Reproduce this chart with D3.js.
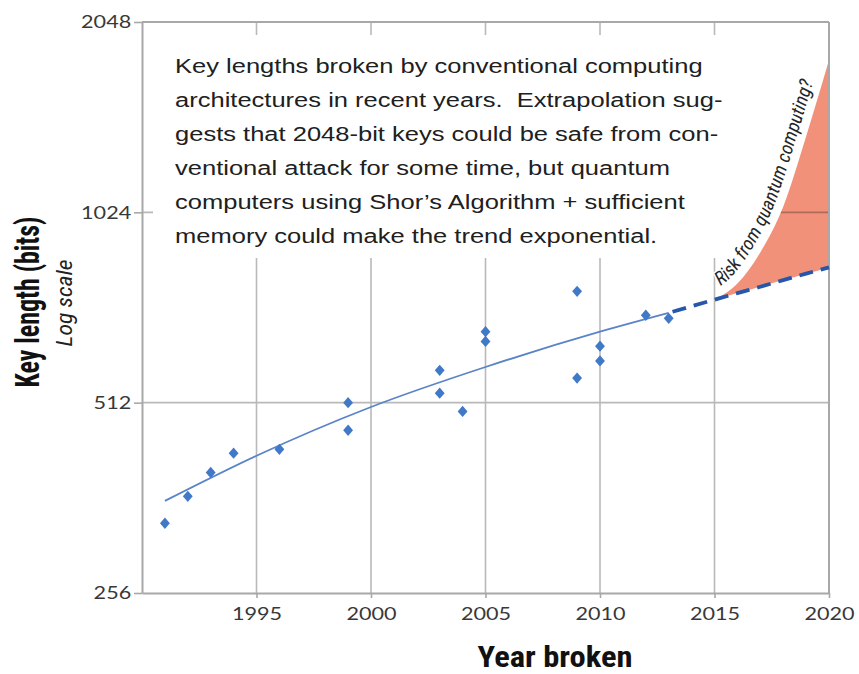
<!DOCTYPE html>
<html><head><meta charset="utf-8">
<script src="https://cdn.jsdelivr.net/npm/d3@7"></script>
<style>body{margin:0;background:#fff}svg{display:block}text{white-space:pre}</style>
</head><body><svg id="chart" width="859" height="674"></svg>
<script>
// ---------- data ----------
const years   = [1991,1992,1993,1994,1996,1999,1999,2003,2003,2004,2005,2005,2009,2009,2010,2010,2012,2013];
const keyBits = [330, 364, 397, 426, 432, 463, 512, 530, 576, 496, 640, 663, 768, 560, 596, 629, 704, 696];
const trendYears = [1991,1995,2000,2005,2010,2013];
const trendBits  = [358, 422, 504, 583, 663, 710];
const extrapYears = [2013,2015,2016,2017,2018,2019,2020];
const extrapBits  = [710, 745, 763, 781, 800, 819, 838];
const riskYears = [2015,2016,2017,2018,2019,2020];
const riskUpper = [745, 790, 885, 1045,1350,1783];
const riskLower = [745, 763, 781, 800, 819, 838];
const yearTicks = [1995,2000,2005,2010,2015,2020];
const bitTicks  = [256,512,1024,2048];
const noteLines = [
  "Key lengths broken by conventional computing",
  "architectures in recent years.  Extrapolation sug-",
  "gests that 2048-bit keys could be safe from con-",
  "ventional attack for some time, but quantum",
  "computers using Shor\u2019s Algorithm + sufficient",
  "memory could make the trend exponential."
];
const riskLabel = "Risk from quantum computing?";
const xTitle = "Year broken";
const yTitle = "Key length (bits)";
const ySubTitle = "Log scale";

// ---------- setup ----------
const svg = d3.select("#chart");
const x = d3.scaleLinear().domain([1990,2020]).range([142,829]);
const y = d3.scaleLog().base(2).domain([256,2048]).range([593,22]);
const gridColor = "#b9b9b9", axisColor = "#a8a8a8";
const SX = 1.2; // horizontal stretch of the original picture's text
const condensed = "'Liberation Sans Narrow','Roboto Condensed','DejaVu Sans Condensed',sans-serif";

// grid lines
svg.append("g").selectAll("line").data(yearTicks.filter(d=>d<2020)).join("line")
  .attr("x1",d=>x(d)).attr("x2",d=>x(d)).attr("y1",y(2048)).attr("y2",y(256))
  .attr("stroke",gridColor).attr("stroke-width",1.6);
svg.append("g").selectAll("line").data(bitTicks.filter(d=>d>256&&d<2048)).join("line")
  .attr("x1",x(1990)).attr("x2",x(2020)).attr("y1",d=>y(d)).attr("y2",d=>y(d))
  .attr("stroke",gridColor).attr("stroke-width",1.6);

// white backing of the note
svg.append("rect").attr("x",x(1990)+11).attr("y",35)
  .attr("width",x(2020)-x(1990)-11).attr("height",223).attr("fill","#fff");

// risk area
const riskData = riskYears.map((d,i)=>({year:d,hi:riskUpper[i],lo:riskLower[i]}));
const area = d3.area().x(d=>x(d.year)).y0(d=>y(d.lo)).y1(d=>y(d.hi)).curve(d3.curveMonotoneX);
svg.append("clipPath").attr("id","riskClip").append("path").attr("d",area(riskData));
svg.append("path").attr("d",area(riskData)).attr("fill","#f2917a");
svg.append("g").attr("clip-path","url(#riskClip)").selectAll("line")
  .data(bitTicks.filter(d=>d>256&&d<2048)).join("line")
  .attr("x1",x(1990)).attr("x2",x(2020)).attr("y1",d=>y(d)).attr("y2",d=>y(d))
  .attr("stroke","#b06a5a").attr("stroke-width",1.6);

// frame
svg.append("line").attr("x1",x(1990)).attr("x2",x(2020)).attr("y1",y(2048)).attr("y2",y(2048))
  .attr("stroke",axisColor).attr("stroke-width",2);
svg.append("line").attr("x1",x(2020)).attr("x2",x(2020)).attr("y1",y(2048)).attr("y2",y(256))
  .attr("stroke",axisColor).attr("stroke-width",2);

// axes
const yAxis = svg.append("g").attr("transform",`translate(${x(1990)},0)`)
  .call(d3.axisLeft(y).tickValues(bitTicks).tickFormat(d3.format("d")).tickSize(8).tickPadding(1).tickSizeOuter(0));
const xAxis = svg.append("g").attr("transform",`translate(0,${y(256)})`)
  .call(d3.axisBottom(x).tickValues(yearTicks).tickFormat(d3.format("d")).tickSize(5).tickPadding(9).tickSizeOuter(0));
[yAxis,xAxis].forEach(g=>{
  g.select(".domain").attr("stroke",axisColor).attr("stroke-width",2);
  g.selectAll(".tick line").attr("stroke",axisColor).attr("stroke-width",1.6);
  g.selectAll(".tick text").attr("fill","#383838").attr("font-family","Lato,'Open Sans',sans-serif")
    .attr("font-size",18).attr("transform",`scale(${SX},1)`);
});
xAxis.selectAll(".tick text").attr("x",0);

// trend line (solid) and extrapolation (dashed)
const line = d3.line().x(d=>x(d[0])).y(d=>y(d[1])).curve(d3.curveMonotoneX);
svg.append("path").attr("d",line(trendYears.map((d,i)=>[d,trendBits[i]])))
  .attr("fill","none").attr("stroke","#5a84c8").attr("stroke-width",1.8);
svg.append("path").attr("d",line(extrapYears.map((d,i)=>[d,extrapBits[i]])))
  .attr("fill","none").attr("stroke","#2757a8").attr("stroke-width",3.8)
  .attr("stroke-dasharray","14,8").attr("stroke-dashoffset",-4);

// points
const sym = d3.symbol(d3.symbolDiamond2, 62);
svg.append("g").selectAll("path").data(years.map((d,i)=>[d,keyBits[i]])).join("path")
  .attr("d",sym).attr("transform",d=>`translate(${x(d[0])},${y(d[1])}) scale(1,1.15)`)
  .attr("fill","#4079c7");

// note text
const note = svg.append("g").attr("fill","#202020").attr("font-family","'Liberation Sans',Arial,sans-serif").attr("font-size",21);
const noteTexts = note.selectAll("text").data(noteLines).join("text")
  .attr("y",(d,i)=>73.5+i*33.9).text(d=>d);
const w1 = noteTexts.node().getComputedTextLength();
note.attr("transform",`translate(175,0) scale(${528/w1},1)`);

// risk label along the upper edge
const upPath = svg.append("path").attr("d",
  d3.line().x(d=>x(d.year)).y(d=>y(d.hi)).curve(d3.curveMonotoneX)(riskData))
  .attr("fill","none").attr("stroke","none");
const pn = upPath.node(), L = pn.getTotalLength();
const pts = [];
for(let s=0;s<=L;s+=3){
  const p=pn.getPointAtLength(s), q=pn.getPointAtLength(Math.min(L,s+1)), r=pn.getPointAtLength(Math.max(0,s-1));
  let dx=q.x-r.x, dy=q.y-r.y; const n=Math.hypot(dx,dy)||1; dx/=n; dy/=n;
  const off=9;
  pts.push([p.x+dy*off, p.y-dx*off]);
}
svg.append("path").attr("id","labelPath").attr("d",d3.line().curve(d3.curveBasis)(pts)).attr("fill","none");
const lbl = svg.append("text").attr("font-family",condensed).attr("font-style","italic")
  .attr("font-size",19).attr("fill","#262626").attr("text-anchor","end")
  .attr("stroke","#fff").attr("stroke-width",3).attr("paint-order","stroke");
lbl.append("textPath").attr("href","#labelPath").attr("startOffset","91%").text(riskLabel);

// axis titles
function fitText(sel, target){
  const w = sel.node().getComputedTextLength();
  return target / w;
}
const xt = svg.append("text").attr("font-family",condensed).attr("font-weight","bold")
  .attr("font-size",29).attr("fill","#111").attr("text-anchor","middle").text(xTitle);
const kx = fitText(xt,155);
xt.attr("transform",`translate(555,667) scale(${kx},1)`);

const yt = svg.append("text").attr("font-family",condensed).attr("font-weight","bold")
  .attr("font-size",27).attr("fill","#111").attr("text-anchor","middle").text(yTitle);
const ky = fitText(yt,171);
yt.attr("transform",`translate(39,302) scale(${SX},${ky}) rotate(-90)`);

const ys = svg.append("text").attr("font-family",condensed).attr("font-style","italic")
  .attr("font-size",18).attr("fill","#222").attr("text-anchor","middle").text(ySubTitle);
const ks = fitText(ys,87);
ys.attr("transform",`translate(72,303) scale(${SX},${ks}) rotate(-90)`);
</script></body></html>
